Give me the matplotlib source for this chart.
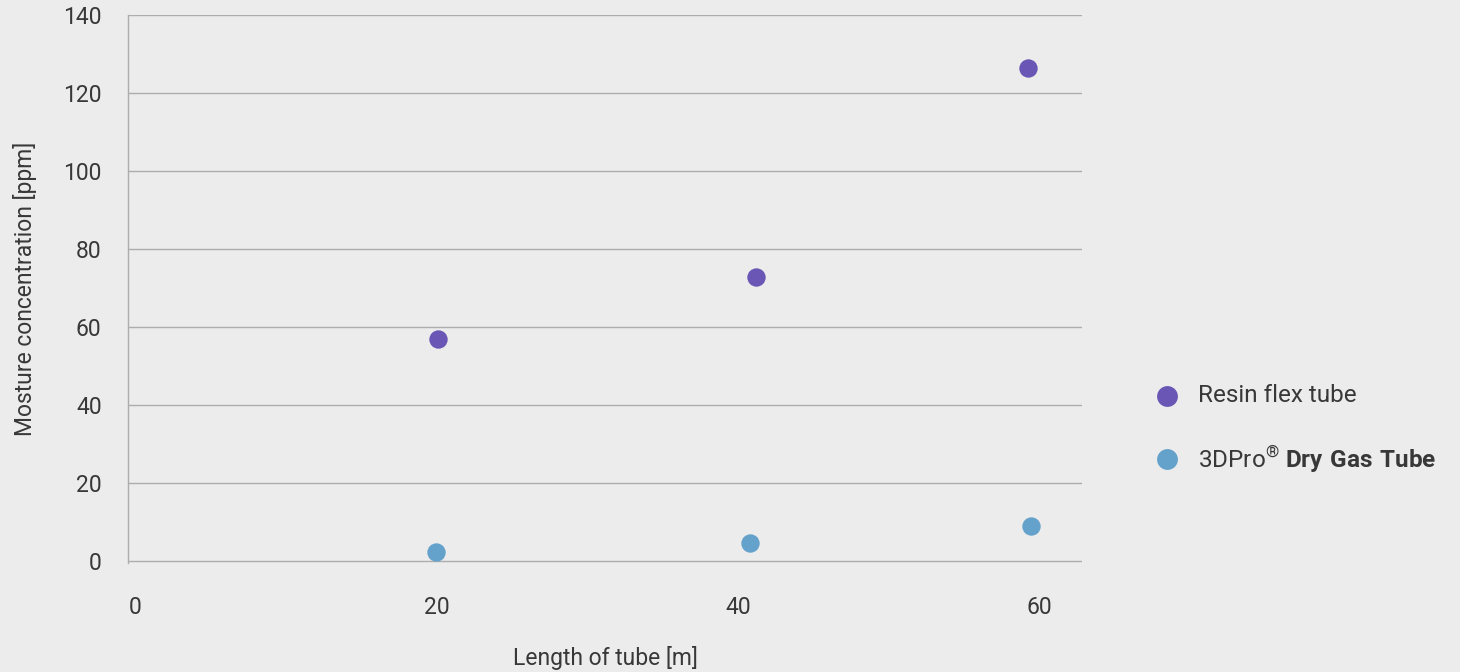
import matplotlib.pyplot as plt
from matplotlib.lines import Line2D

# data
resin_x = [20.1, 41.2, 59.2]
resin_y = [56.8, 72.7, 126.3]
dry_x = [20.0, 40.8, 59.4]
dry_y = [2.3, 4.5, 8.9]
x_ticks = [0, 20, 40, 60]
y_ticks = [0, 20, 40, 60, 80, 100, 120, 140]

resin_color = '#6a56b4'
dry_color = '#64a1cb'
bg = '#ececec'
grid_color = '#adadad'
text_color = '#383838'
fs = 16.5

plt.rcParams['font.family'] = ['Roboto', 'DejaVu Sans']
plt.rcParams['mathtext.fontset'] = 'custom'
plt.rcParams['mathtext.rm'] = 'Roboto'
plt.rcParams['mathtext.bf'] = 'Roboto:bold'

fig = plt.figure(figsize=(14.6, 6.72), dpi=100, facecolor=bg)
ax = fig.add_axes([128 / 1460, 1 - 563 / 672, (1082 - 128) / 1460, (563 - 15) / 672])
ax.set_facecolor(bg)

ax.scatter(resin_x, resin_y, s=175, color=resin_color, zorder=3, linewidths=0)
ax.scatter(dry_x, dry_y, s=175, color=dry_color, zorder=3, linewidths=0)

ax.set_xlim(-0.45, 62.8)
ax.set_ylim(-0.6, 140)
ax.set_xticks(x_ticks)
ax.set_yticks(y_ticks)
ax.grid(axis='y', color=grid_color, linewidth=1.0)
ax.set_axisbelow(True)
for s in ['top', 'right', 'bottom']:
    ax.spines[s].set_visible(False)
ax.spines['left'].set_color(grid_color)
ax.spines['left'].set_linewidth(1.0)
ax.tick_params(axis='both', length=0, labelsize=fs, labelcolor=text_color)
ax.tick_params(axis='x', pad=24)
ax.tick_params(axis='y', pad=19)

ax.set_xlabel('Length of tube [m]', fontsize=fs, color=text_color, labelpad=19)
ax.set_ylabel('Mosture concentration [ppm]', fontsize=fs, color=text_color, labelpad=19)

# legend drawn by hand because of the mixed-weight label
fig.add_artist(Line2D([1167 / 1460], [1 - 396 / 672], marker='o', markersize=15,
                      color=resin_color, markeredgewidth=0, transform=fig.transFigure))
fig.add_artist(Line2D([1167 / 1460], [1 - 459 / 672], marker='o', markersize=15,
                      color=dry_color, markeredgewidth=0, transform=fig.transFigure))
fig.text(1198 / 1460, 1 - 396 / 672, 'Resin flex tube', fontsize=17.5, color=text_color,
         va='center', ha='left')
fig.text(1198 / 1460, 1 - 459 / 672, r'3DPro$^{\mathrm{®}}$ $\mathbf{Dry\ Gas\ Tube}$',
         fontsize=17.5, color=text_color, va='center', ha='left')

fig.savefig('out.png', dpi=100, facecolor=bg)
